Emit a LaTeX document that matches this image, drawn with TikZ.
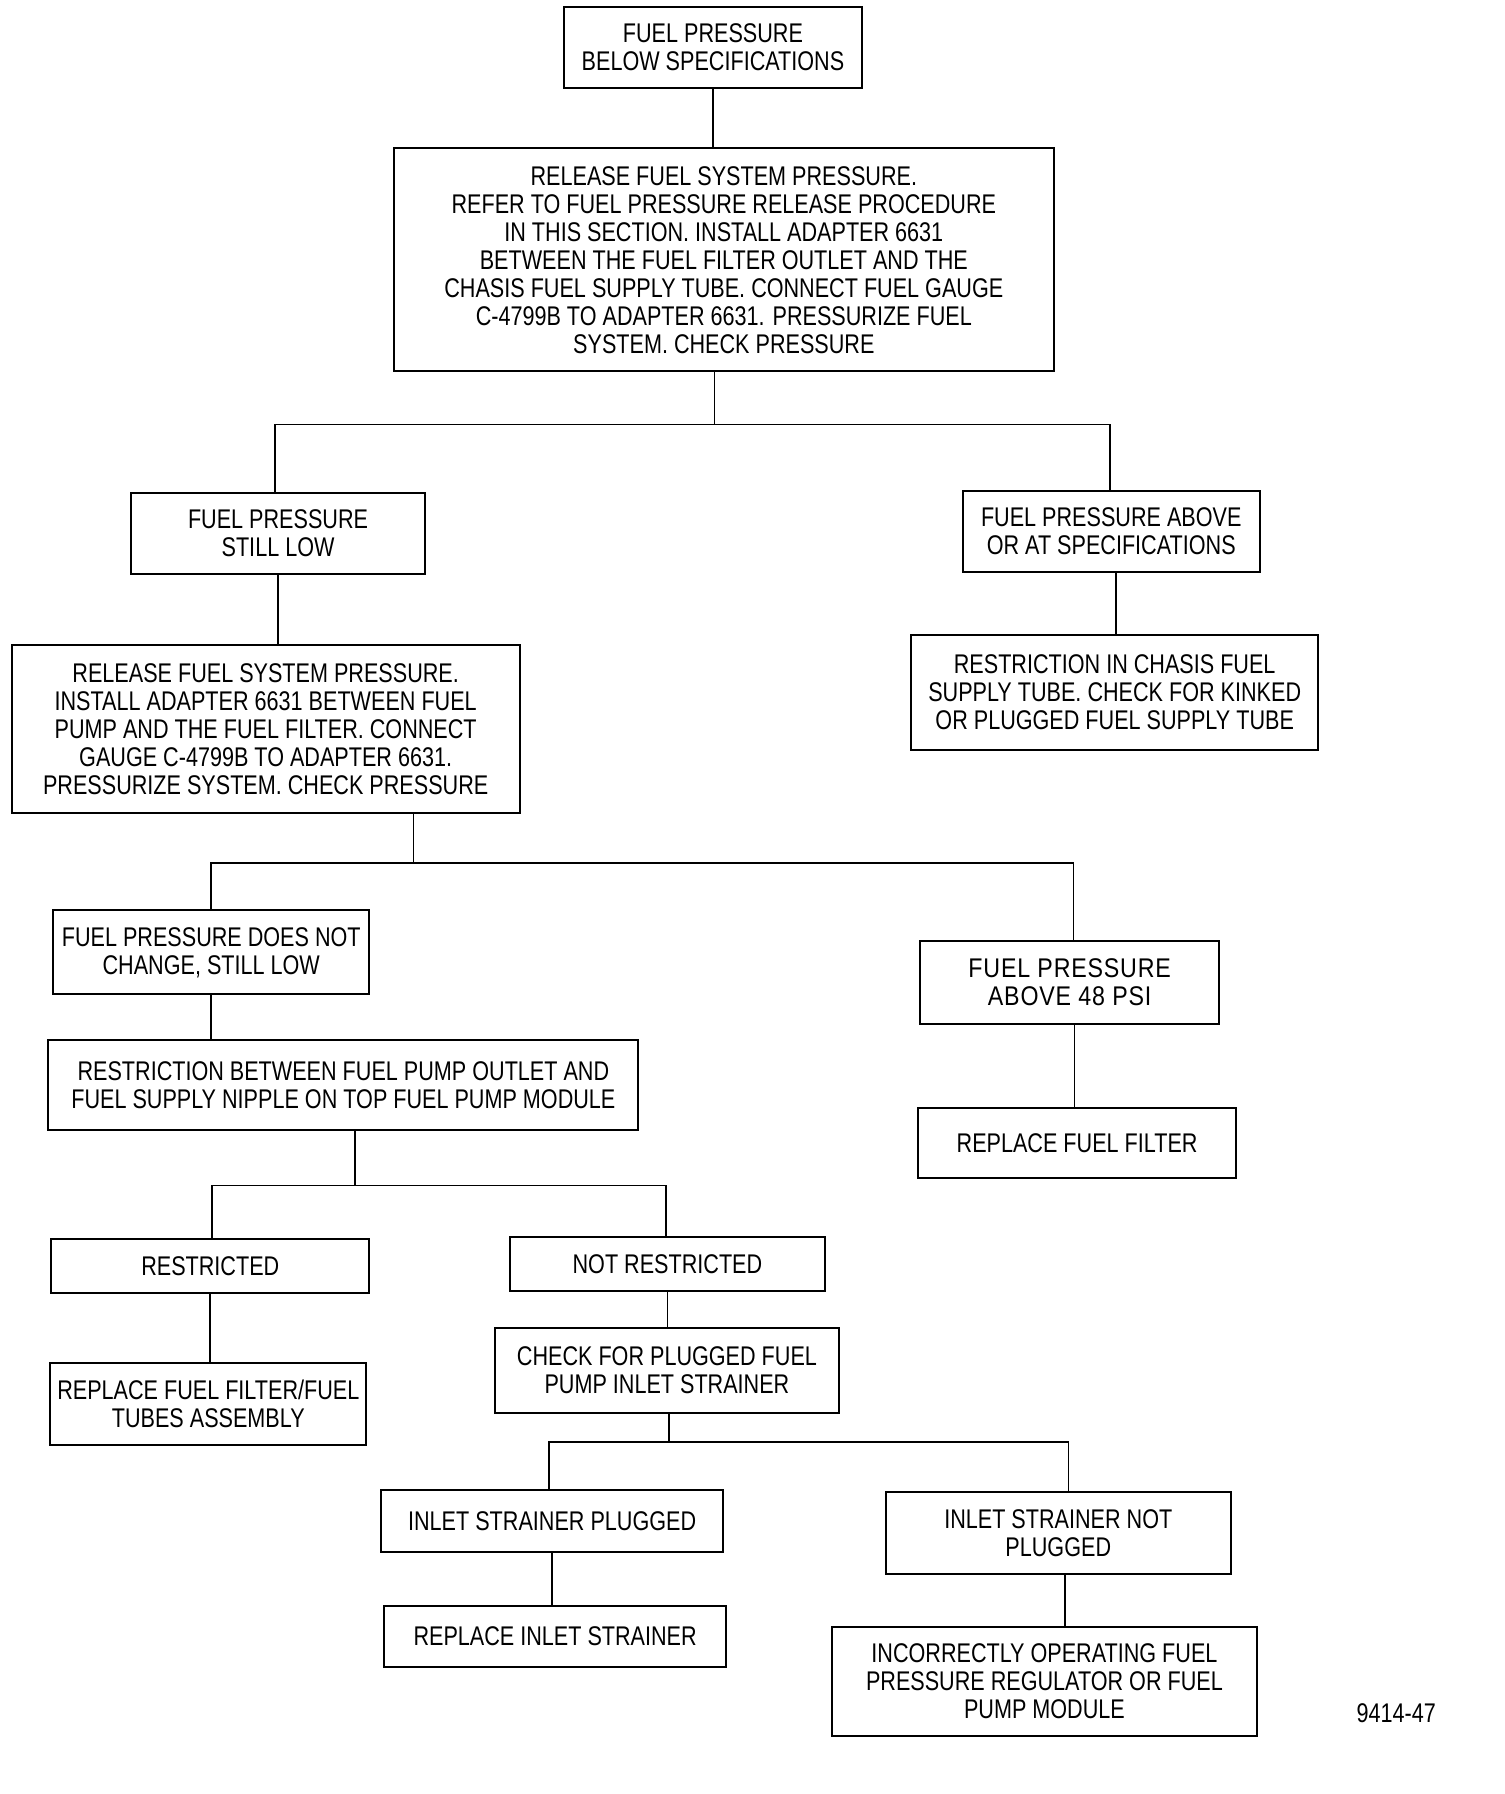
\documentclass[tikz,border=0pt]{standalone}
\usepackage{fontspec}
\setmainfont{Liberation Sans}
\newfontfamily\condfont[FakeStretch=0.80]{Liberation Sans}
\newfontfamily\widefont[FakeStretch=0.86,LetterSpace=3]{Liberation Sans}
\tikzset{
  box/.style={draw, line width=1pt, align=center, inner sep=0pt,
    font=\condfont\fontsize{13.5}{14}\selectfont},
  widebox/.style={box, font=\widefont\fontsize{13.5}{14}\selectfont},
  wh/.style 2 args={minimum width=#1*0.4948pt, minimum height=#2*0.4948pt},
  link/.style={line width=0.8pt},
  lbl/.style={inner sep=0pt, font=\condfont\fontsize{13.5}{14}\selectfont}
}
\begin{document}
\begin{tikzpicture}[x=0.4948pt,y=-0.4948pt]
\fill[white] (0,0) rectangle (1520,1813);
% boxes
\node[box, wh={301}{82}] (top) at (720.5,48) {FUEL PRESSURE\\BELOW SPECIFICATIONS};
\node[box, wh={667}{225}] (rel1) at (731.5,262.5) {RELEASE FUEL SYSTEM PRESSURE.\\REFER TO FUEL PRESSURE RELEASE PROCEDURE\\IN THIS SECTION. INSTALL ADAPTER 6631\\BETWEEN THE FUEL FILTER OUTLET AND THE\\CHASIS FUEL SUPPLY TUBE. CONNECT FUEL GAUGE\\C-4799B TO ADAPTER 6631. PRESSURIZE FUEL\\SYSTEM. CHECK PRESSURE};
\node[box, wh={298}{82}] (sl) at (281,539) {FUEL PRESSURE\\STILL LOW};
\node[box, wh={300}{82}] (ab) at (1123,537) {FUEL PRESSURE ABOVE\\OR AT SPECIFICATIONS};
\node[box, wh={513}{170}] (rel2) at (268.5,737) {RELEASE FUEL SYSTEM PRESSURE.\\INSTALL ADAPTER 6631 BETWEEN FUEL\\PUMP AND THE FUEL FILTER. CONNECT\\GAUGE C-4799B TO ADAPTER 6631.\\PRESSURIZE SYSTEM. CHECK PRESSURE};
\node[box, wh={411}{116}] (chs) at (1126.5,700) {RESTRICTION IN CHASIS FUEL\\SUPPLY TUBE. CHECK FOR KINKED\\OR PLUGGED FUEL SUPPLY TUBE};
\node[box, wh={319}{85}] (dnc) at (213.5,962.5) {FUEL PRESSURE DOES NOT\\CHANGE, STILL LOW};
\node[widebox, wh={302}{84}] (a48) at (1081,993) {FUEL PRESSURE\\ABOVE 48 PSI};
\node[box, wh={596}{91}] (rb) at (347,1096.5) {RESTRICTION BETWEEN FUEL PUMP OUTLET AND\\FUEL SUPPLY NIPPLE ON TOP FUEL PUMP MODULE};
\node[box, wh={321}{70}] (rff) at (1088.5,1155) {REPLACE FUEL FILTER};
\node[box, wh={321}{55}] (res) at (212.5,1279.5) {RESTRICTED};
\node[box, wh={319}{55}] (nr) at (674.5,1277.5) {NOT RESTRICTED};
\node[box, wh={319}{83}] (rft) at (210.5,1418.5) {REPLACE FUEL FILTER/FUEL\\TUBES ASSEMBLY};
\node[box, wh={348}{86}] (chk) at (674,1385) {CHECK FOR PLUGGED FUEL\\PUMP INLET STRAINER};
\node[box, wh={346}{62}] (isp) at (558,1537) {INLET STRAINER PLUGGED};
\node[box, wh={349}{83}] (isnp) at (1069.5,1549.5) {INLET STRAINER NOT\\PLUGGED};
\node[box, wh={346}{62}] (ris) at (561,1654) {REPLACE INLET STRAINER};
\node[box, wh={429}{110}] (inc) at (1055.5,1699) {INCORRECTLY OPERATING FUEL\\PRESSURE REGULATOR OR FUEL\\PUMP MODULE};
\node[lbl] (fig) at (1411,1731) {9414-47};
% junction coordinates
\coordinate (j1) at (722,429);
\coordinate (j1L) at (278,429);
\coordinate (j1R) at (1122,429);
\coordinate (j2) at (418,872);
\coordinate (j2L) at (213,872);
\coordinate (j2R) at (1085,872);
\coordinate (j3) at (359,1198);
\coordinate (j3L) at (214,1198);
\coordinate (j3R) at (673,1198);
\coordinate (j4) at (676,1457);
\coordinate (j4L) at (555,1457);
\coordinate (j4R) at (1080,1457);
\coordinate (xab) at (1128,0);
\coordinate (xa48) at (1086,0);
\coordinate (xisnp) at (1076,0);
% connectors
\draw[link] (top.south) -- (top.south |- rel1.north);
\draw[link] (j1 |- rel1.south) -- (j1);
\draw[link] (j1L |- sl.north) -- (j1L) -- (j1R) -- (j1R |- ab.north);
\draw[link] (sl.south) -- (sl.south |- rel2.north);
\draw[link] (xab |- ab.south) -- (xab |- chs.north);
\draw[link] (j2 |- rel2.south) -- (j2);
\draw[link] (j2L |- dnc.north) -- (j2L) -- (j2R) -- (j2R |- a48.north);
\draw[link] (dnc.south) -- (dnc.south |- rb.north);
\draw[link] (xa48 |- a48.south) -- (xa48 |- rff.north);
\draw[link] (j3 |- rb.south) -- (j3);
\draw[link] (j3L |- res.north) -- (j3L) -- (j3R) -- (j3R |- nr.north);
\draw[link] (res.south) -- (res.south |- rft.north);
\draw[link] (nr.south) -- (nr.south |- chk.north);
\draw[link] (j4 |- chk.south) -- (j4);
\draw[link] (j4L |- isp.north) -- (j4L) -- (j4R) -- (j4R |- isnp.north);
\draw[link] (isp.south) -- (isp.south |- ris.north);
\draw[link] (xisnp |- isnp.south) -- (xisnp |- inc.north);
\end{tikzpicture}
\end{document}
